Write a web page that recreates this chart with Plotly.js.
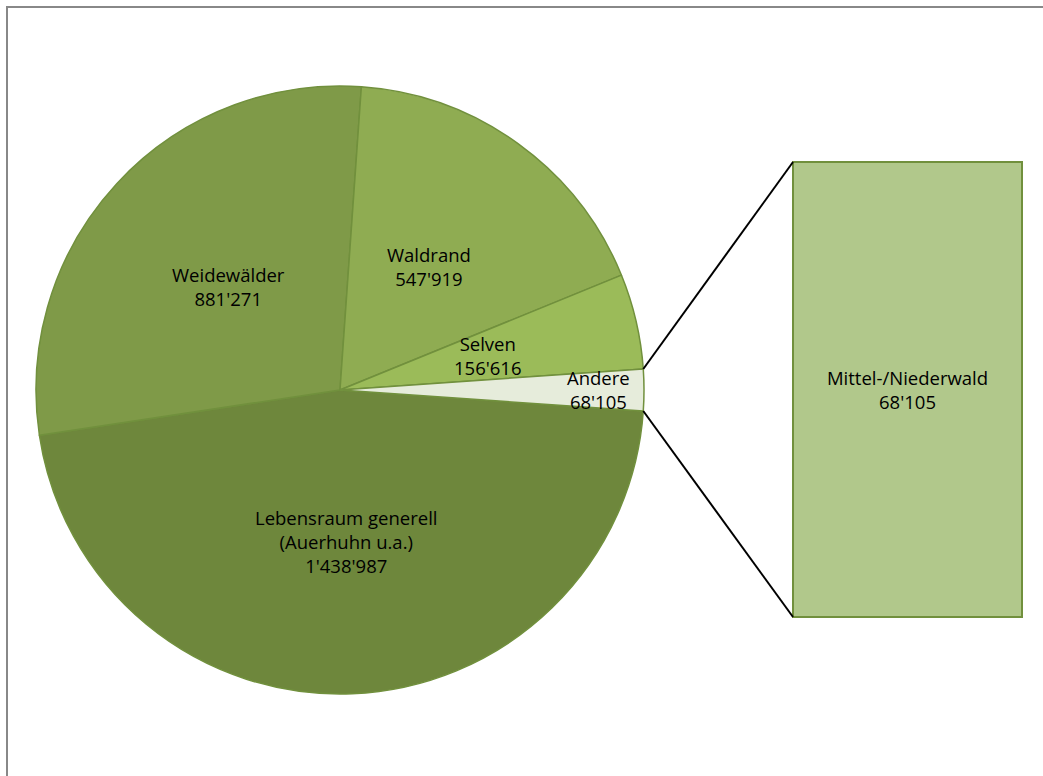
<!DOCTYPE html>
<html>
<head>
<meta charset="utf-8">
<script src="https://cdn.plot.ly/plotly-3.0.1.min.js"></script>
<style>html,body{margin:0;padding:0;background:#fff;}#chart{width:1043px;height:776px;}</style>
</head>
<body>
<div id="chart"></div>
<script>
// ---- data ----
var categories = ["Lebensraum generell<br>(Auerhuhn u.a.)", "Weidewälder", "Waldrand", "Selven", "Andere"];
var values = [1438987, 881271, 547919, 156616, 68105];
var sliceColors = ["#6e873c", "#7f9a48", "#8fac52", "#9bbb59", "#e6ecdb"];
var barCategories = ["Mittel-/Niederwald"];
var barValues = [68105];

// ---- layout constants (pixels) ----
var W = 1043, H = 776;
var CX = 340, CY = 390, R = 304;
var BAR_L = 793, BAR_R = 1022, BAR_T = 162, BAR_B = 617, BAR_PAD = 3;
var FONT = "Open Sans, Liberation Sans, sans-serif";
var FSIZE = 18.5;

function fmt(v) { return String(v).replace(/\B(?=(\d{3})+(?!\d))/g, "'"); }
function px2x(px) { return px / W; }
function py2y(py) { return 1 - py / H; }

var total = values.reduce(function (a, b) { return a + b; }, 0);
var lastFrac = values[values.length - 1] / total;
// last slice ("Andere") centred at 3 o'clock; pie drawn clockwise
var rotation = 90 + lastFrac * 180;

// label annotations computed from slice angles
var annotations = [];
var cum = 0;
for (var i = 0; i < values.length; i++) {
  var frac = values[i] / total;
  var mid = (rotation + (cum + frac / 2) * 360) * Math.PI / 180;
  cum += frac;
  var k = frac < 0.03 ? 0.85 : 0.5;
  var lx = CX + k * R * Math.sin(mid);
  var ly = CY - k * R * Math.cos(mid);
  annotations.push({
    xref: "paper", yref: "paper", x: px2x(lx), y: py2y(ly),
    xanchor: "center", yanchor: "middle", showarrow: false,
    text: categories[i] + "<br>" + fmt(values[i]),
    font: {family: FONT, size: FSIZE, color: "#000"}
  });
}

// connector lines from the last slice edges to the bar corners
var a0 = (rotation - lastFrac * 360) * Math.PI / 180;
var a1 = rotation * Math.PI / 180;
var shapes = [
  {type: "rect", xref: "paper", yref: "paper", x0: px2x(7), x1: 1.05, y0: -0.05, y1: py2y(7),
   line: {color: "#888888", width: 2}, fillcolor: "rgba(0,0,0,0)", layer: "below"},
  {type: "line", xref: "paper", yref: "paper",
   x0: px2x(CX + R * Math.sin(a0)), y0: py2y(CY - R * Math.cos(a0)),
   x1: px2x(BAR_L), y1: py2y(BAR_T), line: {color: "#000", width: 2}},
  {type: "line", xref: "paper", yref: "paper",
   x0: px2x(CX + R * Math.sin(a1)), y0: py2y(CY - R * Math.cos(a1)),
   x1: px2x(BAR_L), y1: py2y(BAR_B), line: {color: "#000", width: 2}}
];

var pie = {
  type: "pie",
  labels: categories,
  values: values,
  sort: false,
  direction: "clockwise",
  rotation: rotation,
  textinfo: "none",
  hoverinfo: "label+value",
  showlegend: false,
  marker: {colors: sliceColors, line: {color: "#71903d", width: 1.5}},
  domain: {x: [px2x(CX - R), px2x(CX + R)], y: [py2y(CY + R), py2y(CY - R)]}
};

var barW = BAR_R - BAR_L;
var barH = BAR_B - BAR_T;
var bar = {
  type: "bar",
  x: barCategories,
  y: barValues,
  width: 1,
  xaxis: "x2", yaxis: "y2",
  marker: {color: "#b1c88b", line: {color: "#71903d", width: 2}},
  text: barCategories.map(function (c, j) { return c + "<br>" + fmt(barValues[j]); }),
  textposition: "inside",
  insidetextanchor: "middle",
  constraintext: "none",
  textfont: {family: FONT, size: FSIZE, color: "#000"},
  hoverinfo: "x+y",
  showlegend: false
};

var layout = {
  width: W, height: H,
  margin: {l: 0, r: 0, t: 0, b: 0},
  paper_bgcolor: "#fff", plot_bgcolor: "rgba(0,0,0,0)",
  showlegend: false,
  xaxis2: {domain: [px2x(BAR_L - BAR_PAD), px2x(BAR_R + BAR_PAD)], anchor: "y2",
           range: [-0.5 - BAR_PAD / barW, 0.5 + BAR_PAD / barW], visible: false, fixedrange: true},
  yaxis2: {domain: [py2y(BAR_B + BAR_PAD), py2y(BAR_T - BAR_PAD)], anchor: "x2",
           range: [-barValues[0] * BAR_PAD / barH, barValues[0] * (1 + BAR_PAD / barH)],
           visible: false, fixedrange: true},
  annotations: annotations,
  shapes: shapes
};

Plotly.newPlot("chart", [pie, bar], layout, {displayModeBar: false});
</script>
</body>
</html>
